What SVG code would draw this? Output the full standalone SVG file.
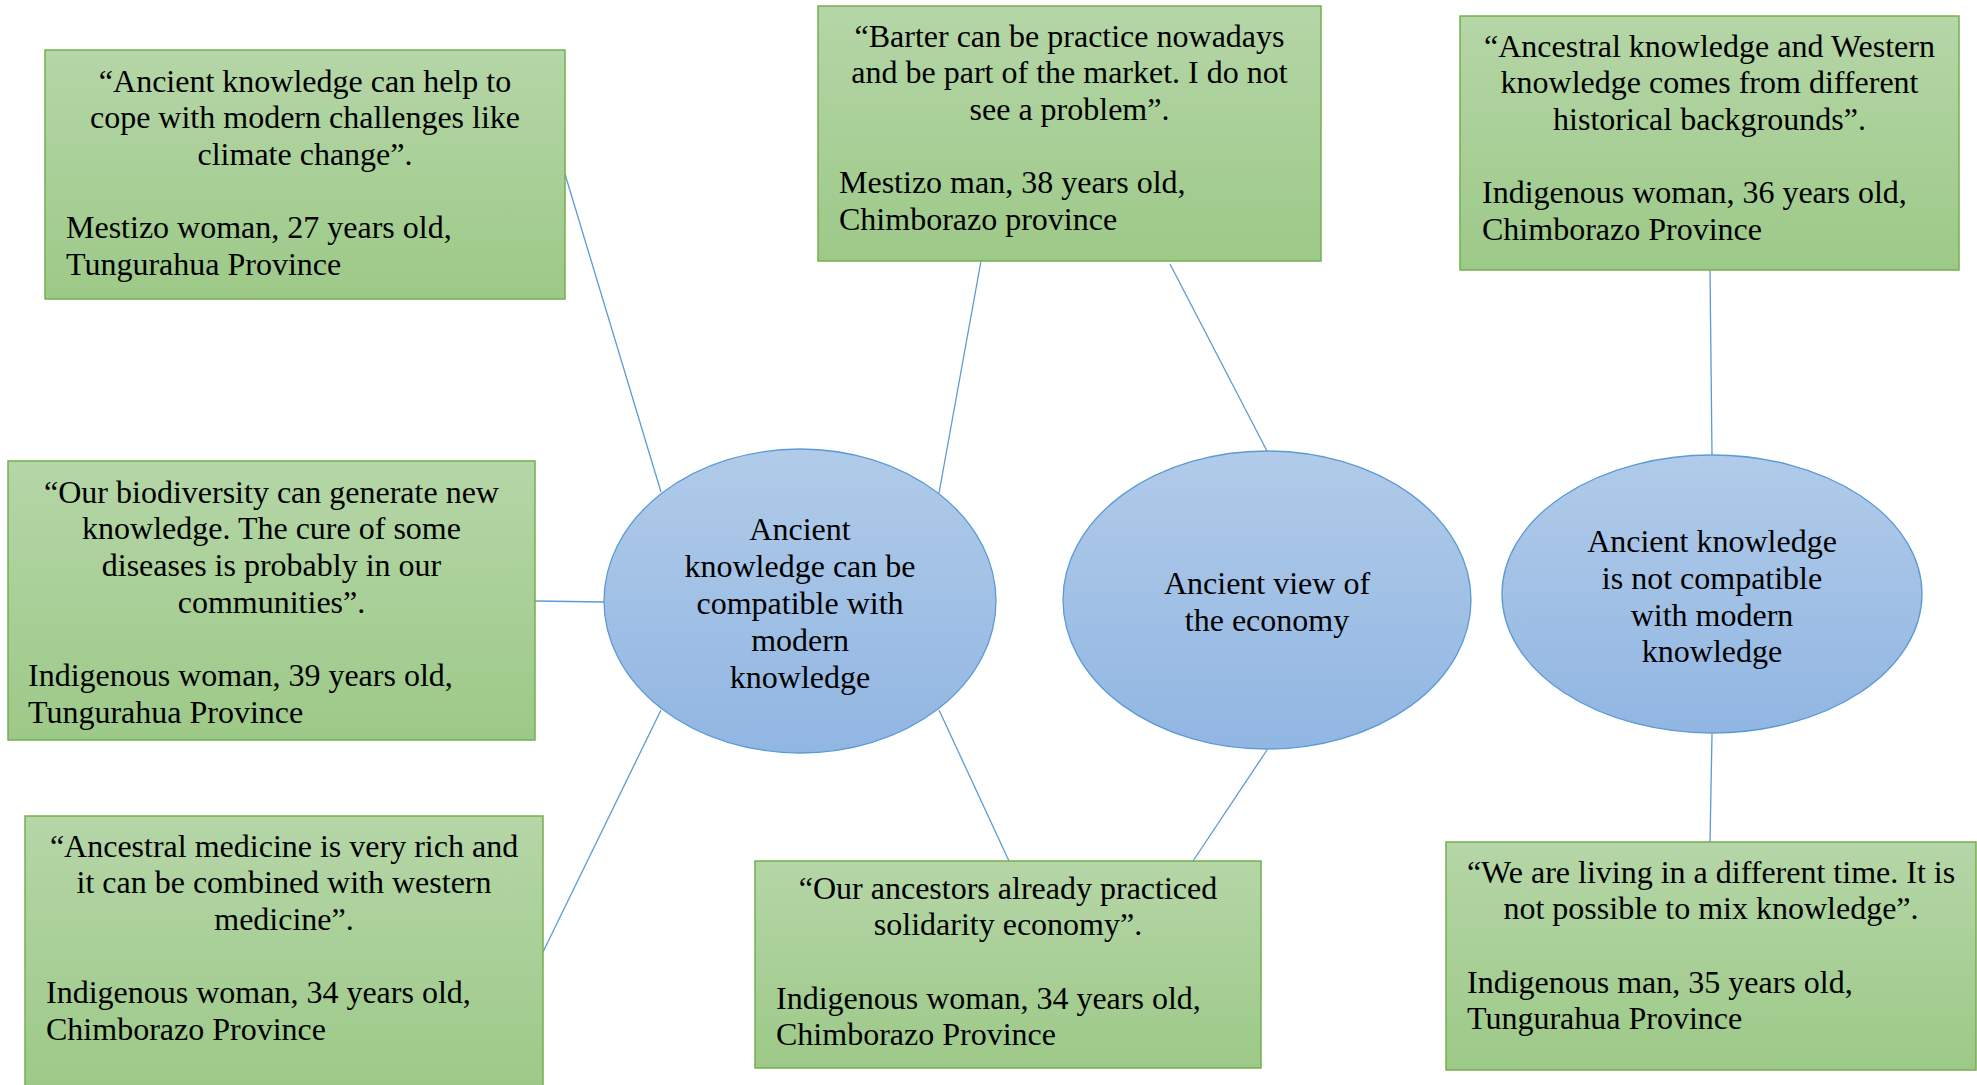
<svg xmlns="http://www.w3.org/2000/svg" width="1977" height="1085" viewBox="0 0 1977 1085">
<defs>
<linearGradient id="gGreen" x1="0" y1="0" x2="0" y2="1">
<stop offset="0" stop-color="#B5D6A7"/>
<stop offset="1" stop-color="#9DC988"/>
</linearGradient>
<linearGradient id="gBlue" x1="0" y1="0" x2="0" y2="1">
<stop offset="0" stop-color="#B1CBE9"/>
<stop offset="1" stop-color="#91B6E2"/>
</linearGradient>
</defs>
<style>
.box{fill:url(#gGreen);stroke:#74AE4F;stroke-width:1.5}
.ell{fill:url(#gBlue);stroke:#5B9BD5;stroke-width:1.3}
.con{stroke:#5B9BD5;stroke-width:1.3;fill:none}
text{font-family:"Liberation Serif","Times New Roman",serif;font-size:32px;fill:#000}
.c{text-anchor:middle}
</style>
<rect width="1977" height="1085" fill="#FFFFFF"/>
<g id="connectors">
<line class="con" x1="565" y1="174" x2="661" y2="492"/>
<line class="con" x1="535" y1="601" x2="604" y2="602"/>
<line class="con" x1="543" y1="952" x2="661" y2="710"/>
<line class="con" x1="981" y1="261" x2="939" y2="493"/>
<line class="con" x1="1170" y1="264" x2="1267" y2="451"/>
<line class="con" x1="939" y1="710" x2="1009" y2="861"/>
<line class="con" x1="1267" y1="750" x2="1193" y2="861"/>
<line class="con" x1="1710" y1="270" x2="1712" y2="455"/>
<line class="con" x1="1712" y1="734" x2="1710" y2="842"/>
</g>
<g id="box-climate">
<rect class="box" x="45" y="50" width="520" height="249"/>
<text class="c" x="305" y="91.5">“Ancient knowledge can help to</text>
<text class="c" x="305" y="128.2">cope with modern challenges like</text>
<text class="c" x="305" y="164.9">climate change”.</text>
<text x="66" y="238.3">Mestizo woman, 27 years old,</text>
<text x="66" y="275">Tungurahua Province</text>
</g>
<g id="box-barter">
<rect class="box" x="818" y="6" width="503" height="255"/>
<text class="c" x="1069.5" y="46.5">“Barter can be practice nowadays</text>
<text class="c" x="1069.5" y="83.2">and be part of the market. I do not</text>
<text class="c" x="1069.5" y="119.9">see a problem”.</text>
<text x="839" y="193.3">Mestizo man, 38 years old,</text>
<text x="839" y="230">Chimborazo province</text>
</g>
<g id="box-backgrounds">
<rect class="box" x="1460" y="16" width="499" height="254"/>
<text class="c" x="1709.5" y="56.5">“Ancestral knowledge and Western</text>
<text class="c" x="1709.5" y="93.2">knowledge comes from different</text>
<text class="c" x="1709.5" y="129.9">historical backgrounds”.</text>
<text x="1482" y="203.3">Indigenous woman, 36 years old,</text>
<text x="1482" y="240">Chimborazo Province</text>
</g>
<g id="box-biodiversity">
<rect class="box" x="8" y="461" width="527" height="279"/>
<text class="c" x="271.5" y="502.5">“Our biodiversity can generate new</text>
<text class="c" x="271.5" y="539.2">knowledge. The cure of some</text>
<text class="c" x="271.5" y="575.9">diseases is probably in our</text>
<text class="c" x="271.5" y="612.6">communities”.</text>
<text x="28" y="686">Indigenous woman, 39 years old,</text>
<text x="28" y="722.7">Tungurahua Province</text>
</g>
<g id="box-medicine">
<rect class="box" x="25" y="816" width="518" height="275"/>
<text class="c" x="284" y="856.5">“Ancestral medicine is very rich and</text>
<text class="c" x="284" y="893.2">it can be combined with western</text>
<text class="c" x="284" y="929.9">medicine”.</text>
<text x="46" y="1003.3">Indigenous woman, 34 years old,</text>
<text x="46" y="1040">Chimborazo Province</text>
</g>
<g id="box-solidarity">
<rect class="box" x="755" y="861" width="506" height="207"/>
<text class="c" x="1008" y="898.5">“Our ancestors already practiced</text>
<text class="c" x="1008" y="935.2">solidarity economy”.</text>
<text x="776" y="1008.6">Indigenous woman, 34 years old,</text>
<text x="776" y="1045.3">Chimborazo Province</text>
</g>
<g id="box-time">
<rect class="box" x="1446" y="842" width="530" height="228"/>
<text class="c" x="1711" y="882.5">“We are living in a different time. It is</text>
<text class="c" x="1711" y="919.2">not possible to mix knowledge”.</text>
<text x="1467" y="992.6">Indigenous man, 35 years old,</text>
<text x="1467" y="1029.3">Tungurahua Province</text>
</g>
<g id="ellipse-compatible">
<ellipse class="ell" cx="800" cy="601" rx="196" ry="152"/>
<text class="c" x="800" y="539.5">Ancient</text>
<text class="c" x="800" y="576.5">knowledge can be</text>
<text class="c" x="800" y="613.5">compatible with</text>
<text class="c" x="800" y="650.5">modern</text>
<text class="c" x="800" y="687.5">knowledge</text>
</g>
<g id="ellipse-economy">
<ellipse class="ell" cx="1267" cy="600" rx="204" ry="149"/>
<text class="c" x="1267" y="593.5">Ancient view of</text>
<text class="c" x="1267" y="630.5">the economy</text>
</g>
<g id="ellipse-not-compatible">
<ellipse class="ell" cx="1712" cy="594" rx="210" ry="139"/>
<text class="c" x="1712" y="552">Ancient knowledge</text>
<text class="c" x="1712" y="589">is not compatible</text>
<text class="c" x="1712" y="626">with modern</text>
<text class="c" x="1712" y="662">knowledge</text>
</g>
</svg>
